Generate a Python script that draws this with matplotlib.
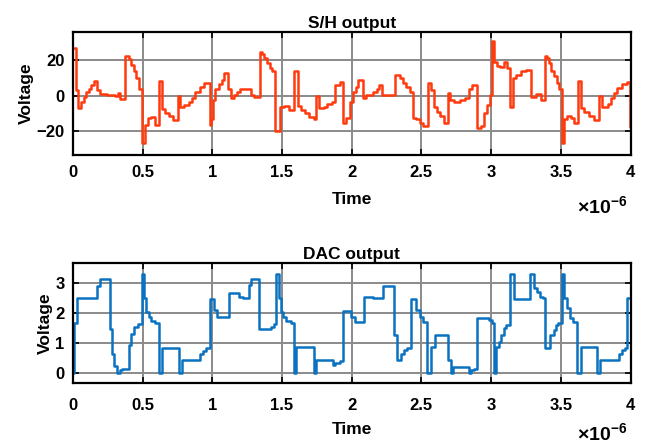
import matplotlib.pyplot as plt
import numpy as np

plt.rcParams.update({
    'font.family': 'Liberation Sans',
    'font.weight': 'bold',
    'axes.labelweight': 'bold',
    'mathtext.fontset': 'custom',
    'mathtext.rm': 'Liberation Sans',
    'mathtext.bf': 'Liberation Sans:bold',
})

# S/H output: step start times (us) and held values
sh_t = [0.000, 0.019, 0.033, 0.057, 0.077, 0.096, 0.112, 0.129, 0.148, 0.172,
        0.196, 0.244, 0.304, 0.321, 0.340, 0.376, 0.400, 0.416, 0.435, 0.455,
        0.474, 0.495, 0.519, 0.536, 0.560, 0.591, 0.615, 0.639, 0.663, 0.687,
        0.718, 0.751, 0.770, 0.799, 0.830, 0.854, 0.878, 0.909, 0.943, 0.981,
        0.993, 1.005, 1.022, 1.045, 1.069, 1.086, 1.110, 1.134, 1.158, 1.177,
        1.201, 1.278, 1.297, 1.340, 1.356, 1.373, 1.392, 1.411, 1.428, 1.452,
        1.488, 1.512, 1.548, 1.584, 1.612, 1.636, 1.667, 1.691, 1.727, 1.746,
        1.763, 1.799, 1.823, 1.859, 1.878, 1.914, 1.940, 1.959, 1.988, 2.012,
        2.031, 2.048, 2.084, 2.103, 2.156, 2.185, 2.199, 2.216, 2.312, 2.343,
        2.367, 2.391, 2.415, 2.439, 2.463, 2.487, 2.511, 2.544, 2.568, 2.588,
        2.612, 2.635, 2.659, 2.688, 2.707, 2.731, 2.779, 2.815, 2.839, 2.863,
        2.899, 2.928, 2.947, 2.971, 2.990, 3.007, 3.024, 3.043, 3.067, 3.091,
        3.115, 3.139, 3.158, 3.182, 3.211, 3.247, 3.288, 3.319, 3.355, 3.384,
        3.398, 3.415, 3.432, 3.451, 3.470, 3.487, 3.506, 3.523, 3.547, 3.571,
        3.595, 3.624, 3.643, 3.667, 3.703, 3.739, 3.775, 3.799, 3.835, 3.859,
        3.882, 3.906, 3.942, 3.978, 3.995]
sh_v = [27, 3.4, -7, -3.2, -0.4, 1.9, 3.8, 6.2, 8.6, 3.4,
        1.1, 0.6, 0, 1.5, -1.9, 22.5, 20.6, 17.4, 13.7, 10,
        3.8, -26.6, -16.3, -12.6, -12, -16.3, 8.6, -7.5, -9.4, -11.6,
        -13.5, 0, -6.4, -5, -3.2, -1.3, 2.4, 4.9, 7.5, -16.3,
        -13, -2.2, 3.8, 6.8, 9, 13, 3.8, -1.3, 0.6, 2.4,
        3.8, 0.6, -0.4, 24.4, 23.6, 21.2, 18.4, 15.6, 13.7, -20,
        -6, -5.6, -7.9, 13.7, -5.6, -7.9, -9.8, -12, -13, 0,
        -7, -6, -4.5, -3.2, 6.2, 8, -15.4, -12.6, -3.2, 2.4,
        5.2, 9, -1.3, 0.6, 1.9, 3.8, 6.2, 0.6, 11.8, 10,
        7.1, 4.9, 2.4, -12.6, -13, -15.4, -16.9, 7.1, 3.4, -6,
        -8.8, -11.6, -15.4, 1.5, -2.2, -3.2, -2.2, -1.3, 3.8, 6.2,
        -18.2, -16.9, -9.8, -5, 0.6, 30.6, 19.3, 16.9, 16.1, 19.3,
        15.6, -6, 10, 11.8, 13.7, 14.3, -0.4, 1.1, -2.2, 22.5,
        21.2, 18.4, 13.7, 10.9, 7.1, 3.8, -26.6, -13, -11.6, -12.6,
        -15.4, 8.6, -7, -8.8, -11.3, -13.5, 0, -6.4, -4.5, -1.3,
        1.5, 4.3, 6.8, 8, -17.3]

# DAC output: step start times (us) and levels
dac_t = [0.000, 0.010, 0.029, 0.172, 0.191, 0.263, 0.280, 0.297, 0.316, 0.335,
         0.352, 0.400, 0.416, 0.435, 0.464, 0.495, 0.512, 0.526, 0.543, 0.560,
         0.591, 0.615, 0.639, 0.758, 0.782, 0.914, 0.933, 0.957, 0.981, 1.014,
         1.033, 1.117, 1.189, 1.220, 1.261, 1.278, 1.333, 1.419, 1.443, 1.459,
         1.476, 1.490, 1.507, 1.531, 1.562, 1.586, 1.603, 1.730, 1.746, 1.866,
         1.883, 1.914, 1.938, 1.998, 2.022, 2.089, 2.153, 2.225, 2.304, 2.328,
         2.352, 2.376, 2.400, 2.428, 2.464, 2.488, 2.512, 2.543, 2.572, 2.596,
         2.690, 2.710, 2.729, 2.840, 2.857, 2.876, 2.900, 2.983, 3.007, 3.024,
         3.038, 3.055, 3.071, 3.090, 3.110, 3.138, 3.162, 3.281, 3.305, 3.329,
         3.348, 3.371, 3.388, 3.424, 3.448, 3.467, 3.483, 3.507, 3.524, 3.543,
         3.567, 3.586, 3.614, 3.643, 3.757, 3.781, 3.919, 3.936, 3.960, 3.976]
dac_v = [0.00, 1.67, 2.50, 2.90, 3.12, 1.46, 0.64, 0.23, 0.00, 0.09,
         0.11, 0.94, 1.28, 1.53, 1.61, 3.28, 2.48, 2.03, 1.87, 1.72,
         1.64, 0.00, 0.83, 0.00, 0.42, 0.61, 0.72, 0.81, 2.44, 2.09,
         1.87, 2.64, 2.53, 2.50, 2.92, 3.12, 1.46, 1.53, 1.61, 3.28,
         2.48, 2.03, 1.87, 1.72, 1.64, 0.00, 0.87, 0.00, 0.42, 0.26,
         0.34, 0.39, 2.06, 1.87, 1.70, 2.53, 2.48, 2.90, 1.26, 0.42,
         0.64, 0.76, 0.81, 2.46, 2.09, 1.87, 1.68, 0.00, 0.87, 1.26,
         0.42, 0.00, 0.20, 0.00, 0.09, 0.14, 1.83, 1.76, 1.64, 0.00,
         0.87, 1.01, 1.26, 1.48, 1.59, 3.28, 2.46, 3.28, 2.81, 2.68,
         2.53, 2.48, 0.83, 1.26, 1.42, 1.59, 1.64, 3.28, 2.48, 2.14,
         1.83, 1.70, 0.00, 0.87, 0.00, 0.42, 0.64, 0.76, 0.81, 2.48]

x_ticks = [0, 0.5, 1, 1.5, 2, 2.5, 3, 3.5, 4]
x_ticklabels = ['0', '0.5', '1', '1.5', '2', '2.5', '3', '3.5', '4']

fig = plt.figure(figsize=(6.48, 4.48), dpi=100)
ax1 = fig.add_axes([0.1125, 0.655, 0.8605, 0.274])
ax2 = fig.add_axes([0.1125, 0.145, 0.8605, 0.268])

ax1.plot(sh_t + [4.0], sh_v + [sh_v[-1]], drawstyle='steps-post',
         color='#ff3b0e', lw=1.8)
ax2.plot(dac_t + [4.0], dac_v + [dac_v[-1]], drawstyle='steps-post',
         color='#0a72c0', lw=1.8)

ax1.set_ylim(-33, 36)
ax1.set_yticks([-20, 0, 20])
ax2.set_ylim(-0.34, 3.65)
ax2.set_yticks([0, 1, 2, 3])

for ax, title, xpad, lpad in [(ax1, 'S/H output', 7.5, 8.5),
                              (ax2, 'DAC output', 11, 6.5)]:
    ax.set_xlim(0, 4)
    ax.set_xticks(x_ticks)
    ax.set_xticklabels(x_ticklabels)
    ax.grid(True, color='#8a8a8a', lw=1.4)
    ax.set_axisbelow(True)
    ax.tick_params(direction='in', top=True, right=True, length=4, width=1.2,
                   labelsize=12, pad=6)
    ax.tick_params(axis='x', pad=xpad)
    for sp in ax.spines.values():
        sp.set_linewidth(1.6)
    ax.set_title(title, fontsize=12.5, fontweight='bold', pad=3)
    ax.set_xlabel('Time', fontsize=12.5, labelpad=lpad)
    ax.set_ylabel('Voltage', fontsize=12.5, labelpad=2)

fig.text(577 / 648, 1 - 195 / 448, r'$\times\mathbf{10^{-6}}$', fontsize=14,
         ha='left', va='top')
fig.text(577 / 648, 1 - 422 / 448, r'$\times\mathbf{10^{-6}}$', fontsize=14,
         ha='left', va='top')

fig.savefig('out.png', dpi=100)
